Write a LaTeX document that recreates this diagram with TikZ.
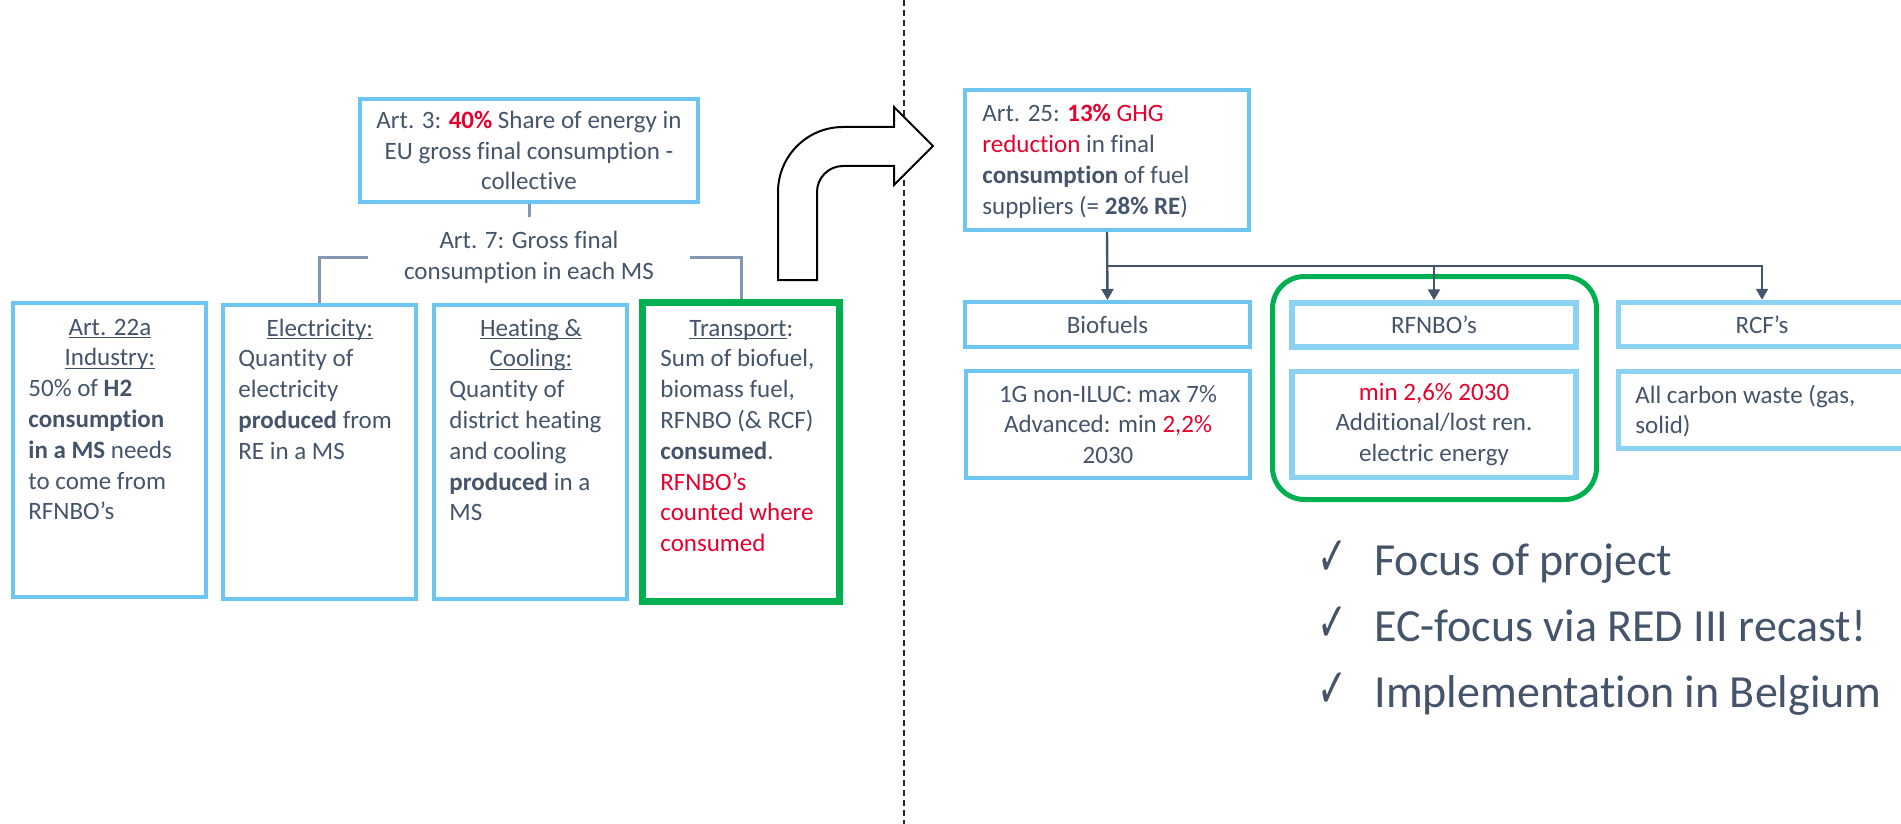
\documentclass[tikz,border=0pt]{standalone}
\usepackage{fontspec}
\usepackage{graphicx}
\setmainfont{Carlito}[Ligatures=NoCommon]
\newfontfamily\symfont{DejaVu Sans}
\usetikzlibrary{arrows.meta,calc}
\definecolor{txt}{RGB}{68,84,106}
\definecolor{redc}{RGB}{232,0,45}
\definecolor{blueA}{RGB}{109,197,241}
\definecolor{blueB}{RGB}{140,211,243}
\definecolor{grn}{RGB}{0,176,80}
\definecolor{connc}{RGB}{132,151,176}
\newcommand\mybody{\fontsize{12.5}{15.4}\selectfont}
\newcommand\mybig{\fontsize{23}{28}\selectfont}
\newcommand\myul[1]{\setbox0\hbox{#1}\rlap{\rule[-1.6pt]{\wd0}{0.6pt}}\box0}
\newcommand\mycheck{\scalebox{0.65}[1]{✓}}
\begin{document}
\begin{tikzpicture}[x=0.5pt,y=-0.5pt,
  bA/.style={draw=blueA,line width=2pt,inner sep=0pt},
  bB/.style={draw=blueB,line width=2.75pt,inner sep=0pt},
  tx/.style={inner sep=0pt,text=txt,font=\mybody},
  bigtx/.style={inner sep=0pt,text=txt,font=\mybig,anchor=base west},
  chk/.style={inner sep=0pt,text=txt,font=\symfont\fontsize{27.5}{29}\selectfont,anchor=base west},
  cL/.style={draw=connc,line width=1.5pt},
  cR/.style={draw=txt,line width=1.2pt,-{Triangle[width=6pt,length=5.5pt]}},
  gbox/.style={draw=grn,inner sep=0pt}]
\useasboundingbox (0,0) rectangle (1901,824);
\clip (0,0) rectangle (1901,824);

% divider
\draw[black!85,line width=0.8pt,dash pattern=on 3pt off 2pt] (904,0) -- (904,824);

% left part
\node[bA,tx,draw=blueA,minimum width=169pt,minimum height=51.5pt,align=center] (art3) at (529,150.5)
  {Art. 3: \textbf{\color{redc}40\%} Share of energy in\\EU gross final consumption -\\collective};
\coordinate (a7top) at (529,217);
\node[tx,align=center] (art7) at (529,257.5) {Art. 7: Gross final\\consumption in each MS};
\draw[cL] (art3.south) -- (a7top);
\coordinate (bl) at (368,257);
\coordinate (br) at (690,257);

\node[bA,minimum width=96.5pt,minimum height=147pt] (ind) at (109.5,450) {};
\node[bA,minimum width=96.5pt,minimum height=147pt] (elec) at (319.5,451.5) {};
\node[bA,minimum width=96.5pt,minimum height=147pt] (heat) at (530.5,452) {};
\node[gbox,line width=3.5pt,minimum width=98.5pt,minimum height=149.5pt] (trans) at (741,452) {};
\draw[cL] (bl) -| (elec.north);
\draw[cL] (br) -| (trans.north);

\node[tx,anchor=base west] (indt) at (28,335) {\parbox[t]{120pt}{\raggedright
  \makebox[81.5pt]{\myul{Art. 22a}}\\
  \makebox[81.5pt]{\myul{Industry:}}\\
  50\% of \textbf{H2}\\
  \textbf{consumption}\\
  \textbf{in a MS} needs\\
  to come from\\
  RFNBO’s}};
\node[tx,anchor=base west] (elect) at (238,336) {\parbox[t]{120pt}{\raggedright
  \makebox[81.5pt]{\myul{Electricity:}}\\
  Quantity of\\
  electricity\\
  \textbf{produced} from\\
  RE in a MS}};
\node[tx,anchor=base west] (heatt) at (449,336) {\parbox[t]{120pt}{\raggedright
  \makebox[81.5pt]{\myul{Heating \&}}\\
  \makebox[81.5pt]{\myul{Cooling:}}\\
  Quantity of\\
  district heating\\
  and cooling\\
  \textbf{produced} in a\\
  MS}};
\node[tx,anchor=base west] (transt) at (660,336) {\parbox[t]{120pt}{\raggedright
  \makebox[81pt]{\myul{Transport}:}\\
  Sum of biofuel,\\
  biomass fuel,\\
  RFNBO (\& RCF)\\
  \textbf{consumed}.\\
  \color{redc}RFNBO’s\\
  counted where\\
  consumed}};

% block arrow
\draw[black,line width=1pt,fill=white,line join=miter]
  (778,280) -- (778,192) arc[start angle=180,end angle=270,radius=65]
  -- (894,127) -- (894,107) -- (933,146) -- (894,185) -- (894,166) -- (843,166)
  arc[start angle=270,end angle=180,radius=26] -- (817,280) -- cycle;

% right part
\node[bA,minimum width=142pt,minimum height=70pt] (art25) at (1107,160) {};
\node[tx,anchor=base west] (art25t) at (982,122) {\parbox[t]{130pt}{\raggedright
  Art. 25: {\color{redc}\textbf{13\%} GHG}\\
  {\color{redc}reduction} in final\\
  \textbf{consumption} of fuel\\
  suppliers (= \textbf{28\% RE})}};

\node[gbox,line width=2.5pt,rounded corners=16pt,minimum width=162pt,minimum height=111.5pt] (focus) at (1434.5,388) {};

\node[bA,tx,draw=blueA,minimum width=142.5pt,minimum height=22.5pt] (bio) at (1107.5,324.5) {Biofuels};
\node[bA,tx,draw=blueA,minimum width=142pt,minimum height=53.5pt,align=center] (biod) at (1108,424.5)
  {1G non-ILUC: max 7\%\\Advanced: min {\color{redc}2,2\%}\\2030};
\node[bB,tx,draw=blueB,minimum width=142pt,minimum height=22pt] (rfn) at (1434,325) {RFNBO’s};
\node[bB,tx,draw=blueB,minimum width=142pt,minimum height=53pt,align=center] (rfnd) at (1434,424.5)
  {{\color{redc}min 2,6\% 2030}\\Additional/lost ren.\\electric energy};
\node[bB,tx,draw=blueB,minimum width=143.5pt,minimum height=22pt] (rcf) at (1762,324.5) {RCF’s};
\node[bB,minimum width=143.5pt,minimum height=38.5pt] (rcfd) at (1762,410) {};
\node[tx,anchor=base west] (rcft) at (1635,403) {\parbox[t]{130pt}{\raggedright
  All carbon waste (gas,\\solid)}};

\coordinate (split) at (1107,266);
\draw[cR] (art25.south) -- (bio.north);
\draw[cR] (split) -| (rfn.north);
\draw[cR] (split) -| (rcf.north);

% checklist
\node[chk] (k1) at (1317,575) {\mycheck};
\node[chk] (k2) at (1317,641) {\mycheck};
\node[chk] (k3) at (1317,707) {\mycheck};
\node[bigtx] (c1) at (1374,575) {Focus of project};
\node[bigtx] (c2) at (1374,641) {EC-focus via RED III recast!};
\node[bigtx] (c3) at (1374,707) {Implementation in Belgium};
\end{tikzpicture}
\end{document}
